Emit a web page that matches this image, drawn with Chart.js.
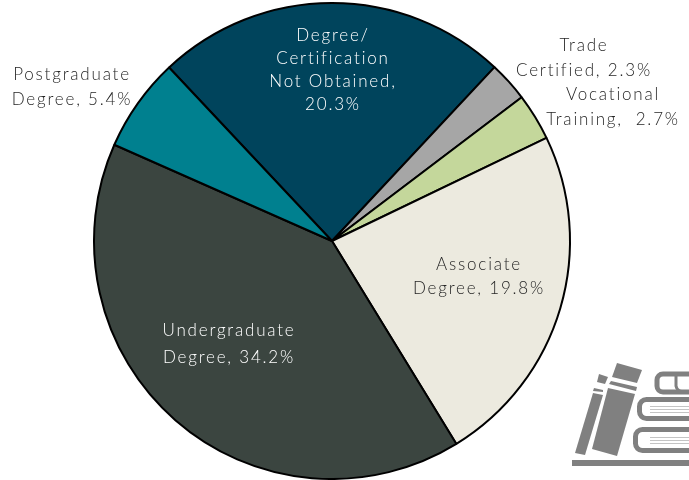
<!DOCTYPE html>
<html>
<head>
<meta charset="utf-8">
<style>
  html, body { margin: 0; padding: 0; background: #fff; overflow: hidden; }
  #wrap { width: 689px; height: 480px; position: relative; }
</style>
<script src="https://cdn.jsdelivr.net/npm/chart.js@4"></script>
</head>
<body>
<div id="wrap"><canvas id="graph-1"></canvas></div>
<script>
const categories = ['Degree/Certification Not Obtained', 'Trade Certified', 'Vocational Training', 'Associate Degree', 'Undergraduate Degree', 'Postgraduate Degree'];
const shares = [20.3, 2.3, 2.7, 19.8, 34.2, 5.4];
const sliceColors = ['#00445C', '#A6A6A6', '#C4D79B', '#ECEADF', '#3B4540', '#00808F'];

// text lines for each slice, placed by hand like the original callouts
const labelLines = [
  ['Degree/', 'Certification', 'Not Obtained,', '20.3%'],
  ['Trade', 'Certified, 2.3%'],
  ['Vocational', 'Training,  2.7%'],
  ['Associate', 'Degree, 19.8%'],
  ['Undergraduate', 'Degree, 34.2%'],
  ['Postgraduate', 'Degree, 5.4%']
];
const labelSpots = [
  { x: 333, y: [36, 59, 82, 105], color: '#ffffff' },
  { x: 584, y: [46, 71], color: '#262626' },
  { x: 613, y: [95, 120], color: '#262626' },
  { x: 479, y: [265, 289], color: '#262626' },
  { x: 229, y: [331, 358], color: '#ffffff' },
  { x: 72, y: [75, 100], color: '#262626' }
];

const sliceLabels = {
  id: 'sliceLabels',
  afterDraw(chart) {
    const ctx = chart.ctx;
    ctx.save();
    ctx.font = '300 17px Lato';
    ctx.letterSpacing = '1.8px';
    ctx.textAlign = 'center';
    ctx.textBaseline = 'middle';
    labelLines.forEach((lines, i) => {
      ctx.fillStyle = labelSpots[i].color;
      lines.forEach((line, j) => ctx.fillText(line, labelSpots[i].x, labelSpots[i].y[j]));
    });
    ctx.restore();
  }
};

// book shelf picture in the corner, only decoration
const shelfIcon = {
  id: 'shelfIcon',
  beforeDraw(chart) {
    const ctx = chart.ctx;
    const poly = pts => {
      ctx.beginPath();
      pts.forEach((p, i) => i ? ctx.lineTo(p[0], p[1]) : ctx.moveTo(p[0], p[1]));
      ctx.closePath();
      ctx.fill();
    };
    ctx.save();
    ctx.fillStyle = '#808080';
    ctx.strokeStyle = '#808080';
    ctx.fillRect(572, 460, 117, 6);
    // leaning books
    poly([[599, 374], [608, 377], [605, 384], [597, 382]]);
    poly([[594, 388], [603, 390], [603, 392], [593, 391]]);
    poly([[593, 393], [603, 395], [585, 455], [575, 453]]);
    poly([[617, 363], [642, 370], [637, 383], [612, 377]]);
    poly([[611, 381], [637, 387], [636, 391], [609, 384]]);
    poly([[608, 388], [635, 394], [617, 456], [592, 449]]);
    // stacked books
    ctx.lineWidth = 5;
    ctx.beginPath();
    ctx.roundRect(657, 374, 50, 18, 6);
    ctx.stroke();
    ctx.lineWidth = 3;
    ctx.beginPath();
    ctx.moveTo(676, 373);
    ctx.lineTo(676, 386);
    ctx.quadraticCurveTo(677, 393, 689, 392);
    ctx.stroke();
    ctx.lineWidth = 5;
    ctx.beginPath();
    ctx.roundRect(639.5, 399.5, 70, 19, 7);
    ctx.stroke();
    ctx.beginPath();
    ctx.roundRect(635.5, 429.5, 70, 21, 7);
    ctx.stroke();
    ctx.fillStyle = '#c4c4c4';
    [406, 409, 412, 437, 440, 443].forEach(y => ctx.fillRect(650, y, 39, 1));
    ctx.restore();
  }
};

const config = {
  type: 'pie',
  data: {
    labels: categories,
    datasets: [{
      data: shares,
      backgroundColor: sliceColors,
      borderColor: '#000000',
      borderWidth: 2
    }]
  },
  options: {
    responsive: false,
    animation: false,
    rotation: -43.2,
    layout: { padding: { top: 2, right: 25, bottom: -2 } },
    plugins: {
      legend: { display: false },
      title: { display: false },
      tooltip: { enabled: false }
    }
  },
  plugins: [shelfIcon, sliceLabels]
};

const canvas = document.querySelector('#graph-1');
canvas.width = 689;
canvas.height = 480;
const chart = new Chart(canvas, config);
</script>
</body>
</html>
